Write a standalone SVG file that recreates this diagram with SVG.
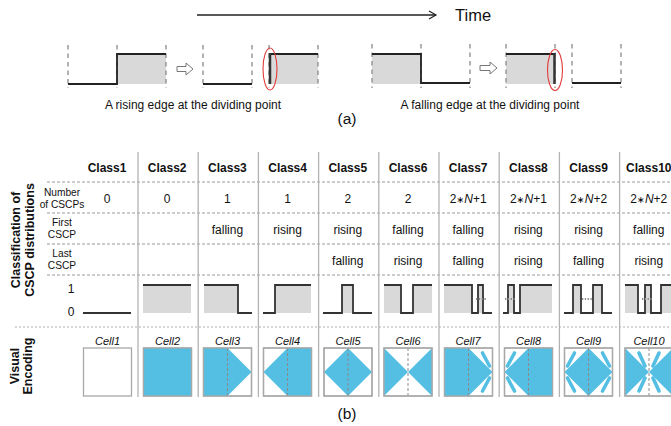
<svg xmlns="http://www.w3.org/2000/svg" width="671" height="426" viewBox="0 0 671 426">
  <style>
    text { font-family: "Liberation Sans", Arial, "DejaVu Sans", sans-serif; fill: #111; }
    .cap { font-size: 12px; text-anchor: middle; }
    .hdr { font-size: 12px; font-weight: bold; text-anchor: middle; }
    .row { font-size: 10.2px; text-anchor: middle; }
    .val { font-size: 12px; text-anchor: middle; }
    .op { font-size: 9.5px; }
    .cell { font-size: 11px; font-style: italic; text-anchor: middle; }
    .side { font-size: 12.5px; font-weight: bold; text-anchor: middle; }
    .guide { stroke: #8a8a8a; stroke-width: 1.3; stroke-dasharray: 4.5 4; fill: none; }
    .wave { stroke: #222; stroke-width: 1.8; fill: none; stroke-linejoin: miter; }
    .edge { stroke: #333; stroke-width: 2.5; }
    .shade { fill: #d9d9d9; }
    .ring { fill: none; stroke: #e33a3a; stroke-width: 1.1; }
    .hollow { fill: #fff; stroke: #777; stroke-width: 1; }
    .rowline { stroke: #9a9a9a; stroke-width: 1; stroke-dasharray: 3 2; }
    .dotline { stroke: #b0b0b0; stroke-width: 1.2; stroke-dasharray: 2 2; }
    .colline { stroke: #b3b3b3; stroke-width: 1.3; }
    .tw { stroke: #333; stroke-width: 1.8; fill: none; }
    .more { stroke: #8a8a8a; stroke-width: 2.2; stroke-dasharray: 1.3 1.5; }
    .box { fill: #fff; stroke: #a8a8a8; stroke-width: 1.3; }
    .blue { fill: #55bfe3; }
    .fth { stroke: #55bfe3; stroke-width: 3.6; stroke-linecap: round; fill: none; }
    .mid { stroke: #8a8a8a; stroke-width: 1; stroke-dasharray: 3 2; }
    .frame { fill: none; stroke: #a8a8a8; stroke-width: 1.3; }
  </style>

  <!-- time axis -->
  <g id="time-axis">
    <line x1="197" y1="15" x2="436" y2="15" stroke="#222" stroke-width="1.3"/>
    <polyline points="429,11 436,15 429,19" fill="none" stroke="#222" stroke-width="1.2"/>
    <text x="455" y="21" font-size="16.5">Time</text>
  </g>

  <!-- (a) rising edge -->
  <g id="rising-before">
    <rect class="shade" x="117" y="54" width="49" height="30"/>
    <line class="guide" x1="68" y1="45" x2="68" y2="88"/>
    <line class="guide" x1="117" y1="45" x2="117" y2="88"/>
    <line class="guide" x1="166" y1="45" x2="166" y2="88"/>
    <polyline class="wave" points="68,84 117,84 117,54 166,54"/>
  </g>
  <path id="rising-arrow" class="hollow" d="M177,66.5 H186 V63 L193,69 L186,75 V71.5 H177 Z"/>
  <g id="rising-after">
    <line class="guide" x1="203" y1="45" x2="203" y2="88"/>
    <line class="guide" x1="252" y1="45" x2="252" y2="88"/>
    <polyline class="wave" points="203,84 252,84"/>
    <rect class="shade" x="269" y="54" width="49" height="30"/>
    <line class="guide" x1="269" y1="45" x2="269" y2="88"/>
    <line class="guide" x1="318" y1="45" x2="318" y2="88"/>
    <polyline class="wave" points="269,54 318,54"/>
    <line class="edge" x1="270" y1="53" x2="270" y2="84"/>
    <ellipse class="ring" cx="270" cy="69" rx="7" ry="21"/>
  </g>
  <text class="cap" x="193" y="109">A rising edge at the dividing point</text>

  <!-- (a) falling edge -->
  <g id="falling-before">
    <rect class="shade" x="372" y="54" width="49" height="30"/>
    <line class="guide" x1="372" y1="44" x2="372" y2="88"/>
    <line class="guide" x1="421" y1="44" x2="421" y2="88"/>
    <line class="guide" x1="470" y1="44" x2="470" y2="88"/>
    <polyline class="wave" points="372,54 421,54 421,83 470,83"/>
  </g>
  <path id="falling-arrow" class="hollow" d="M480,65.5 H490 V62 L497,68 L490,74 V70.5 H480 Z"/>
  <g id="falling-after">
    <rect class="shade" x="506" y="54" width="49" height="30"/>
    <line class="guide" x1="506" y1="44" x2="506" y2="88"/>
    <line class="guide" x1="555" y1="44" x2="555" y2="88"/>
    <polyline class="wave" points="506,54 555,54"/>
    <line class="edge" x1="554.5" y1="53" x2="554.5" y2="84"/>
    <ellipse class="ring" cx="555" cy="70" rx="7.5" ry="20.5"/>
    <line class="guide" x1="572" y1="44" x2="572" y2="88"/>
    <line class="guide" x1="621" y1="44" x2="621" y2="88"/>
    <polyline class="wave" points="572,83 621,83"/>
  </g>
  <text class="cap" x="490" y="109">A falling edge at the dividing point</text>
  <text x="347" y="124" font-size="15.5" text-anchor="middle">(a)</text>

  <!-- (b) table grid -->
  <g id="grid">
    <line class="rowline" x1="47" y1="182" x2="671" y2="182"/>
    <line class="rowline" x1="47" y1="213" x2="671" y2="213"/>
    <line class="rowline" x1="47" y1="244" x2="671" y2="244"/>
    <line class="rowline" x1="47" y1="275" x2="671" y2="275"/>
    <line class="dotline" x1="15" y1="327" x2="671" y2="327"/>
    <line class="colline" x1="138" y1="152" x2="138" y2="397"/>
    <line class="colline" x1="198.2" y1="152" x2="198.2" y2="397"/>
    <line class="colline" x1="258.4" y1="152" x2="258.4" y2="397"/>
    <line class="colline" x1="318.6" y1="152" x2="318.6" y2="397"/>
    <line class="colline" x1="378.8" y1="152" x2="378.8" y2="397"/>
    <line class="colline" x1="439" y1="152" x2="439" y2="397"/>
    <line class="colline" x1="499.2" y1="152" x2="499.2" y2="397"/>
    <line class="colline" x1="559.4" y1="152" x2="559.4" y2="397"/>
    <line class="colline" x1="619.6" y1="152" x2="619.6" y2="397"/>
  </g>

  <!-- side titles -->
  <g id="side-titles">
    <text class="side" transform="translate(20,240) rotate(-90)">Classification of</text>
    <text class="side" transform="translate(34,240) rotate(-90)">CSCP distributions</text>
    <text class="side" transform="translate(19,366) rotate(-90)">Visual</text>
    <text class="side" transform="translate(32,366) rotate(-90)">Encoding</text>
  </g>

  <!-- row labels -->
  <g id="row-labels">
    <text class="row" x="62" y="195.6">Number</text>
    <text class="row" x="62" y="207.6">of CSCPs</text>
    <text class="row" x="62" y="226">First</text>
    <text class="row" x="62" y="238">CSCP</text>
    <text class="row" x="62" y="257">Last</text>
    <text class="row" x="62" y="269">CSCP</text>
    <text class="val" x="71" y="293">1</text>
    <text class="val" x="71" y="316">0</text>
  </g>

  <!-- class headers -->
  <g id="headers">
    <text class="hdr" x="107" y="172">Class1</text>
    <text class="hdr" x="167.2" y="172">Class2</text>
    <text class="hdr" x="227.4" y="172">Class3</text>
    <text class="hdr" x="287.6" y="172">Class4</text>
    <text class="hdr" x="347.8" y="172">Class5</text>
    <text class="hdr" x="408" y="172">Class6</text>
    <text class="hdr" x="468.2" y="172">Class7</text>
    <text class="hdr" x="528.4" y="172">Class8</text>
    <text class="hdr" x="588.6" y="172">Class9</text>
    <text class="hdr" x="648.8" y="172">Class10</text>
  </g>

  <!-- counts, first and last CSCP -->
  <g id="values">
    <text class="val" x="107" y="202.5">0</text>
    <text class="val" x="167.2" y="202.5">0</text>
    <text class="val" x="227.4" y="202.5">1</text>
    <text class="val" x="287.6" y="202.5">1</text>
    <text class="val" x="347.8" y="202.5">2</text>
    <text class="val" x="408" y="202.5">2</text>
    <text class="val" x="468.2" y="202.5">2<tspan class="op">∗</tspan><tspan font-style="italic">N</tspan>+1</text>
    <text class="val" x="528.4" y="202.5">2<tspan class="op">∗</tspan><tspan font-style="italic">N</tspan>+1</text>
    <text class="val" x="588.6" y="202.5">2<tspan class="op">∗</tspan><tspan font-style="italic">N</tspan>+2</text>
    <text class="val" x="648.8" y="202.5">2<tspan class="op">∗</tspan><tspan font-style="italic">N</tspan>+2</text>

    <text class="val" x="227.4" y="233.5">falling</text>
    <text class="val" x="287.6" y="233.5">rising</text>
    <text class="val" x="347.8" y="233.5">rising</text>
    <text class="val" x="408" y="233.5">falling</text>
    <text class="val" x="468.2" y="233.5">falling</text>
    <text class="val" x="528.4" y="233.5">rising</text>
    <text class="val" x="588.6" y="233.5">rising</text>
    <text class="val" x="648.8" y="233.5">falling</text>

    <text class="val" x="347.8" y="264.5">falling</text>
    <text class="val" x="408" y="264.5">rising</text>
    <text class="val" x="468.2" y="264.5">falling</text>
    <text class="val" x="528.4" y="264.5">rising</text>
    <text class="val" x="588.6" y="264.5">falling</text>
    <text class="val" x="648.8" y="264.5">rising</text>
  </g>

  <!-- waveforms, high at y=285, low at y=313 -->
  <g id="waveforms">
    <polyline class="tw" points="83,313 131,313"/>

    <rect class="shade" x="143" y="285" width="48" height="28"/>
    <polyline class="tw" points="143,285 191,285"/>

    <rect class="shade" x="204" y="285" width="34" height="28"/>
    <polyline class="tw" points="204,285 238,285 238,313 252,313"/>

    <rect class="shade" x="275" y="285" width="36" height="28"/>
    <polyline class="tw" points="263,313 275,313 275,285 311,285"/>

    <rect class="shade" x="342" y="285" width="11" height="28"/>
    <polyline class="tw" points="323,313 342,313 342,285 353,285 353,313 372,313"/>

    <rect class="shade" x="384" y="285" width="17" height="28"/>
    <rect class="shade" x="413" y="285" width="19" height="28"/>
    <polyline class="tw" points="384,285 401,285 401,313 413,313 413,285 432,285"/>

    <rect class="shade" x="444" y="285" width="28" height="28"/>
    <rect class="shade" x="478" y="285" width="5" height="28"/>
    <polyline class="tw" points="444,285 472,285 472,313 478,313 478,285 483,285 483,313 492,313"/>
    <line class="more" x1="476" y1="299" x2="487" y2="299"/>

    <rect class="shade" x="508" y="285" width="6" height="28"/>
    <rect class="shade" x="520" y="285" width="32" height="28"/>
    <polyline class="tw" points="503,313 508,313 508,285 514,285 514,313 520,313 520,285 552,285"/>
    <line class="more" x1="505" y1="299" x2="516" y2="299"/>

    <rect class="shade" x="573" y="285" width="8" height="28"/>
    <rect class="shade" x="593" y="285" width="9" height="28"/>
    <polyline class="tw" points="564,313 573,313 573,285 581,285 581,313 593,313 593,285 602,285 602,313 612,313"/>
    <line class="more" x1="582" y1="299" x2="593" y2="299"/>

    <rect class="shade" x="625" y="285" width="13" height="28"/>
    <rect class="shade" x="645" y="285" width="6" height="28"/>
    <rect class="shade" x="661" y="285" width="10" height="28"/>
    <polyline class="tw" points="625,285 638,285 638,313 645,313 645,285 651,285 651,313 661,313 661,285 672,285"/>
    <line class="more" x1="642" y1="299" x2="653" y2="299"/>
  </g>

  <!-- visual encoding cells, each drawn in a 48x48 local box -->
  <g id="cells">
    <text class="cell" x="107.5" y="345">Cell1</text>
    <text class="cell" x="167.5" y="345">Cell2</text>
    <text class="cell" x="227.5" y="345">Cell3</text>
    <text class="cell" x="287.5" y="345">Cell4</text>
    <text class="cell" x="348" y="345">Cell5</text>
    <text class="cell" x="408" y="345">Cell6</text>
    <text class="cell" x="468" y="345">Cell7</text>
    <text class="cell" x="528.5" y="345">Cell8</text>
    <text class="cell" x="588.5" y="345">Cell9</text>
    <text class="cell" x="649" y="345">Cell10</text>

    <g id="cell1" transform="translate(83.5,348)">
      <rect class="box" width="48" height="48"/>
    </g>
    <g id="cell2" transform="translate(143.5,348)">
      <rect class="box" width="48" height="48"/>
      <rect class="blue" width="48" height="48"/>
      <rect class="frame" width="48" height="48"/>
    </g>
    <g id="cell3" transform="translate(203.5,348)">
      <rect class="box" width="48" height="48"/>
      <path class="blue" d="M0,0 H24 L48,24 L24,48 H0 Z"/>
      <line class="mid" x1="24" y1="0" x2="24" y2="48"/>
      <rect class="frame" width="48" height="48"/>
    </g>
    <g id="cell4" transform="translate(263.5,348)">
      <rect class="box" width="48" height="48"/>
      <path class="blue" d="M48,0 H24 L0,24 L24,48 H48 Z"/>
      <line class="mid" x1="24" y1="0" x2="24" y2="48"/>
      <rect class="frame" width="48" height="48"/>
    </g>
    <g id="cell5" transform="translate(324,348)">
      <rect class="box" width="48" height="48"/>
      <path class="blue" d="M24,0 L48,24 L24,48 L0,24 Z"/>
      <line class="mid" x1="24" y1="0" x2="24" y2="48"/>
      <rect class="frame" width="48" height="48"/>
    </g>
    <g id="cell6" transform="translate(384,348)">
      <rect class="box" width="48" height="48"/>
      <path class="blue" d="M0,0 L24,24 L0,48 Z M48,0 L24,24 L48,48 Z"/>
      <line class="mid" x1="24" y1="0" x2="24" y2="48"/>
      <rect class="frame" width="48" height="48"/>
    </g>
    <g id="cell7" transform="translate(444.5,348)">
      <rect class="box" width="48" height="48"/>
      <path class="blue" d="M0,0 H24 L48,24 L24,48 H0 Z"/>
      <line class="fth" x1="38" y1="5" x2="45" y2="18"/>
      <line class="fth" x1="38" y1="43" x2="45" y2="30"/>
      <line class="mid" x1="24" y1="0" x2="24" y2="48"/>
      <rect class="frame" width="48" height="48"/>
    </g>
    <g id="cell8" transform="translate(504.5,348)">
      <rect class="box" width="48" height="48"/>
      <path class="blue" d="M48,0 H24 L0,24 L24,48 H48 Z"/>
      <line class="fth" x1="10" y1="5" x2="3" y2="18"/>
      <line class="fth" x1="10" y1="43" x2="3" y2="30"/>
      <line class="mid" x1="24" y1="0" x2="24" y2="48"/>
      <rect class="frame" width="48" height="48"/>
    </g>
    <g id="cell9" transform="translate(564.5,348)">
      <rect class="box" width="48" height="48"/>
      <path class="blue" d="M24,0 L48,24 L24,48 L0,24 Z"/>
      <line class="fth" x1="38" y1="5" x2="45" y2="18"/>
      <line class="fth" x1="38" y1="43" x2="45" y2="30"/>
      <line class="fth" x1="10" y1="5" x2="3" y2="18"/>
      <line class="fth" x1="10" y1="43" x2="3" y2="30"/>
      <line class="mid" x1="24" y1="0" x2="24" y2="48"/>
      <rect class="frame" width="48" height="48"/>
    </g>
    <g id="cell10" transform="translate(625,348)">
      <rect class="box" width="48" height="48"/>
      <path class="blue" d="M0,0 L24,24 L0,48 Z M48,0 L24,24 L48,48 Z"/>
      <line class="fth" x1="14" y1="5" x2="20" y2="18"/>
      <line class="fth" x1="14" y1="43" x2="20" y2="30"/>
      <line class="fth" x1="34" y1="5" x2="28" y2="18"/>
      <line class="fth" x1="34" y1="43" x2="28" y2="30"/>
      <line class="mid" x1="24" y1="0" x2="24" y2="48"/>
      <rect class="frame" width="48" height="48"/>
    </g>
  </g>

  <text x="347" y="419" font-size="15.5" text-anchor="middle">(b)</text>
</svg>
